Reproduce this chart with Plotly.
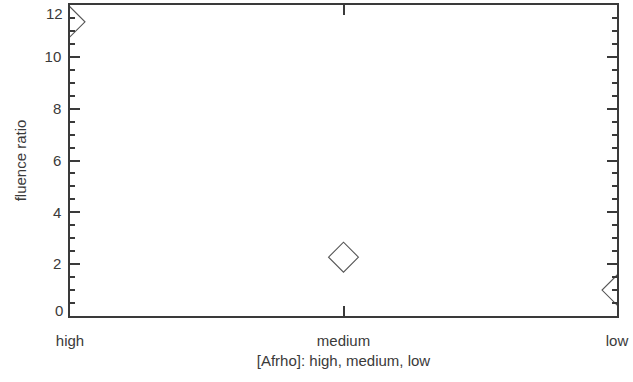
import plotly.graph_objects as go

categories = ["high", "medium", "low"]
fluence_ratio = [11.35, 2.27, 1.0]
y_ticks = [0, 2, 4, 6, 8, 10, 12]

INK = "#3a3a3a"
FONT = "Liberation Sans"

fig = go.Figure()
fig.add_trace(go.Scatter(
    x=[0, 1, 2],
    y=fluence_ratio,
    mode="markers",
    marker=dict(symbol="diamond-open", size=23, color="#555555", line=dict(width=1.1)),
    cliponaxis=True,
    showlegend=False,
))

axis_common = dict(
    showgrid=False, zeroline=False, showline=True, linecolor=INK, linewidth=1.5,
    mirror="allticks", ticks="inside", tickcolor=INK, automargin=False,
    ticklabeloverflow="allow",
    tickfont=dict(family=FONT, size=15, color=INK),
)

# IDL keeps the end labels inside the axis span, so 0 and 12 are drawn as annotations
end_labels = []
for v, shift in [(y_ticks[0], 6), (y_ticks[-1], -8)]:
    end_labels.append(dict(
        x=0, xref="paper", xanchor="right", xshift=-5,
        y=v, yref="y", yanchor="middle", yshift=shift,
        text=str(v), showarrow=False,
        font=dict(family=FONT, size=15, color=INK),
    ))

fig.update_layout(
    width=633, height=382,
    plot_bgcolor="white", paper_bgcolor="white",
    margin=dict(l=70, r=16, t=5, b=66),
    font=dict(family=FONT, color=INK),
    xaxis=dict(
        **axis_common,
        range=[0, 2], tickvals=[0, 1, 2], ticktext=categories,
        ticklen=10, tickwidth=1.5, ticklabelstandoff=10,
        title=dict(text="[Afrho]: high, medium, low", font=dict(size=15, color=INK), standoff=8),
    ),
    yaxis=dict(
        **axis_common,
        range=[0, 12], tickvals=y_ticks,
        ticktext=[""] + [str(v) for v in y_ticks[1:-1]] + [""],
        ticklen=10, tickwidth=1.5, ticklabelstandoff=4,
        minor=dict(dtick=0.5, ticks="inside", ticklen=5, tickcolor=INK, tickwidth=1.5),
        title=dict(text="fluence ratio", font=dict(size=15, color=INK), standoff=14),
    ),
    annotations=end_labels,
)

fig.write_html(
    "out.html",
    config={"displayModeBar": False},
    post_script="document.body.style.margin='0';document.body.style.padding='0';",
)
